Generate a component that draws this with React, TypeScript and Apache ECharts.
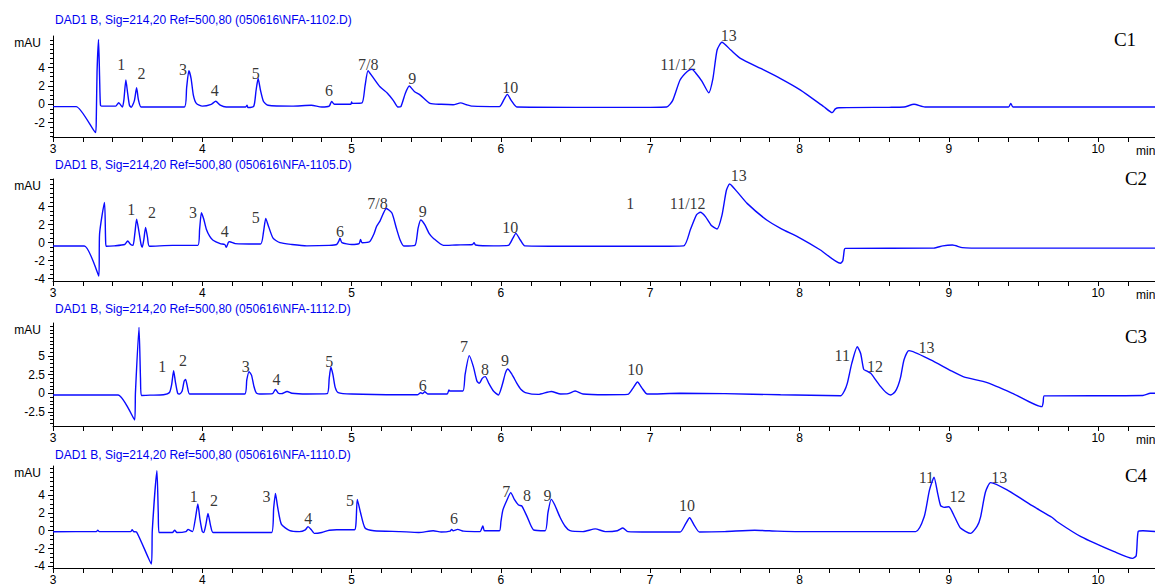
import { useEffect, useRef } from "react";
import * as echarts from "echarts";

// ---------- data ----------
const TITLES = [
  "DAD1 B, Sig=214,20 Ref=500,80 (050616\\NFA-1102.D)",
  "DAD1 B, Sig=214,20 Ref=500,80 (050616\\NFA-1105.D)",
  "DAD1 B, Sig=214,20 Ref=500,80 (050616\\NFA-1112.D)",
  "DAD1 B, Sig=214,20 Ref=500,80 (050616\\NFA-1110.D)",
];
const PANEL_NAMES = ["C1", "C2", "C3", "C4"];
const X_LABELS = [3, 4, 5, 6, 7, 8, 9, 10];
const X_UNIT = ["min", "min", "min", ""];
const X_MIN = 3;
const X_MAX = 10.381;
const Y_LABELS = [
  [-2, 0, 2, 4],
  [-4, -2, 0, 2, 4],
  [-2.5, 0, 2.5, 5],
  [-4, -2, 0, 2, 4],
];
const Y_MIN = [-3.554, -4.256, -4.378, -4.168];
const Y_MAX = [7.424, 7.078, 9.411, 7.229];

const C1_TRACE: [number, number][] = [
  [3.0, -0.25], [3.155, -0.25], [3.285, -3.08], [3.29, -1.5], [3.295, 3.5], [3.305, 7.06], [3.312, 3.0], [3.318, -0.1],
  [3.33, -0.2], [3.42, -0.2], [3.44, 0.17], [3.465, -0.3], [3.475, 0.5], [3.488, 2.64], [3.5, 1.2], [3.512, -0.1],
  [3.524, -0.33], [3.545, 0.4], [3.56, 1.8], [3.572, 0.5], [3.59, -0.3], [3.7, -0.3], [3.88, -0.3], [3.895, 1.8],
  [3.91, 3.65], [3.925, 2.8], [3.94, 1.0], [3.96, 0.1], [4.0, -0.2], [4.06, 0.0], [4.09, 0.33], [4.12, -0.1],
  [4.16, -0.3], [4.29, -0.3], [4.3, -0.1], [4.305, -0.35], [4.345, -0.2], [4.36, 1.5], [4.374, 2.8], [4.39, 1.5],
  [4.41, 0.3], [4.44, -0.1], [4.6, -0.2], [4.73, -0.1], [4.8, -0.3], [4.85, -0.2], [4.866, 0.3], [4.885, 0.0],
  [4.95, 0.0], [4.995, 0.0], [5.0, 0.25], [5.005, 0.1], [5.07, 0.15], [5.09, 2.0], [5.11, 3.65], [5.14, 3.0],
  [5.19, 1.9], [5.24, 1.2], [5.28, 0.4], [5.31, -0.3], [5.33, -0.25], [5.36, 1.2], [5.386, 1.99], [5.42, 1.4],
  [5.46, 1.0], [5.525, 0.1], [5.6, 0.0], [5.68, -0.05], [5.73, 0.15], [5.77, -0.05], [5.81, -0.2], [5.99, -0.25],
  [6.02, 0.5], [6.043, 1.08], [6.07, 0.4], [6.107, -0.3], [6.5, -0.33], [7.0, -0.33], [7.11, -0.3], [7.15, 0.4],
  [7.2, 2.64], [7.25, 3.6], [7.28, 3.8], [7.31, 3.3], [7.347, 2.5], [7.392, 1.26], [7.42, 2.8], [7.448, 5.9],
  [7.48, 6.74], [7.54, 5.9], [7.604, 5.0], [7.74, 3.9], [7.87, 2.83], [8.007, 1.55], [8.163, -0.26], [8.219, -0.91],
  [8.24, -0.5], [8.264, -0.37], [8.6, -0.33], [8.7, -0.3], [8.767, 0.0], [8.84, -0.3], [9.4, -0.3], [9.415, 0.1],
  [9.43, -0.3], [10.39, -0.3],
];

const C2_TRACE: [number, number][] = [
  [3.0, -0.37], [3.21, -0.37], [3.307, -3.7], [3.312, 1.0], [3.345, 4.48], [3.352, 0.5], [3.356, -0.4], [3.41, -0.35],
  [3.48, -0.2], [3.5, 0.19], [3.52, -0.2], [3.536, -0.3], [3.548, 1.0], [3.56, 2.6], [3.575, 1.3], [3.59, -0.2],
  [3.598, -0.5], [3.608, 0.3], [3.62, 1.7], [3.633, 0.6], [3.646, -0.4], [3.8, -0.3], [3.97, -0.3], [3.982, 1.5],
  [3.994, 3.33], [4.01, 2.6], [4.027, 1.5], [4.05, 0.7], [4.072, 0.27], [4.12, -0.1], [4.15, -0.2], [4.161, -0.5],
  [4.175, 0.05], [4.183, 0.1], [4.22, -0.1], [4.39, -0.15], [4.41, 1.2], [4.425, 2.7], [4.44, 2.0], [4.474, 0.5],
  [4.52, 0.0], [4.6, -0.2], [4.7, -0.35], [4.85, -0.3], [4.9, -0.2], [4.915, 0.2], [4.922, 0.5], [4.935, 0.0],
  [5.0, -0.2], [5.05, -0.1], [5.06, 0.35], [5.07, 0.0], [5.12, 0.1], [5.15, 1.0], [5.167, 1.8], [5.19, 2.4],
  [5.233, 3.8], [5.27, 3.3], [5.3, 1.6], [5.325, 0.3], [5.35, -0.37], [5.424, -0.3], [5.445, 1.6], [5.463, 2.52],
  [5.49, 2.0], [5.52, 1.0], [5.547, 0.5], [5.615, -0.3], [5.7, -0.25], [5.81, -0.2], [5.82, 0.0], [5.83, -0.25],
  [5.95, -0.35], [6.05, -0.3], [6.08, 0.5], [6.1, 1.04], [6.13, 0.3], [6.16, -0.35], [6.5, -0.4], [7.0, -0.4],
  [7.224, -0.35], [7.27, 1.5], [7.31, 3.1], [7.336, 3.38], [7.37, 2.9], [7.41, 1.9], [7.448, 1.52], [7.48, 3.0],
  [7.51, 5.8], [7.532, 6.52], [7.58, 5.7], [7.649, 4.37], [7.78, 2.52], [7.873, 1.6], [8.007, 0.49], [8.14, -0.81],
  [8.274, -2.29], [8.29, -2.0], [8.3, -0.8], [8.307, -0.63], [8.9, -0.6], [8.96, -0.35], [9.024, -0.26], [9.09, -0.55],
  [9.15, -0.6], [10.39, -0.6],
];

const C3_TRACE: [number, number][] = [
  [3.0, -0.23], [3.435, -0.23], [3.547, -3.57], [3.552, 0.0], [3.576, 8.83], [3.586, 2.0], [3.592, -0.3], [3.65, -0.25],
  [3.74, -0.2], [3.78, 0.1], [3.795, 1.2], [3.808, 3.03], [3.82, 1.5], [3.835, 0.0], [3.848, -0.1], [3.865, 0.3],
  [3.878, 1.6], [3.888, 1.87], [3.9, 0.9], [3.915, -0.1], [4.1, -0.1], [4.284, -0.1], [4.298, 1.8], [4.313, 2.9],
  [4.33, 2.4], [4.345, 1.0], [4.362, 0.05], [4.4, -0.1], [4.47, -0.05], [4.49, 0.53], [4.51, 0.0], [4.53, -0.05],
  [4.568, 0.25], [4.6, 0.0], [4.7, -0.1], [4.836, -0.05], [4.85, 2.0], [4.861, 3.48], [4.875, 2.5], [4.89, 0.8],
  [4.91, 0.1], [5.0, -0.1], [5.325, -0.2], [5.44, -0.2], [5.463, 0.08], [5.475, -0.05], [5.49, 0.2], [5.51, -0.1],
  [5.64, -0.1], [5.652, 0.44], [5.66, 0.3], [5.745, 0.3], [5.76, 2.5], [5.788, 5.04], [5.815, 3.6], [5.84, 1.6],
  [5.855, 1.33], [5.875, 2.0], [5.895, 2.23], [5.92, 1.3], [5.95, 0.3], [5.983, -0.23], [6.01, 1.2], [6.03, 2.7],
  [6.046, 3.25], [6.075, 2.5], [6.107, 1.33], [6.135, 0.5], [6.163, 0.1], [6.25, -0.15], [6.337, 0.25], [6.4, -0.1],
  [6.45, -0.05], [6.497, 0.3], [6.55, -0.1], [6.7, -0.2], [6.85, -0.15], [6.885, 0.7], [6.915, 1.51], [6.945, 0.7],
  [6.98, -0.1], [7.2, 0.0], [7.5, -0.05], [7.873, -0.2], [8.277, -0.32], [8.3, 0.3], [8.32, 1.33], [8.35, 4.0],
  [8.387, 6.24], [8.41, 5.3], [8.43, 3.2], [8.45, 2.99], [8.477, 2.67], [8.51, 1.8], [8.544, 0.89], [8.58, 0.1],
  [8.611, -0.23], [8.64, 0.2], [8.66, 1.0], [8.678, 2.23], [8.7, 4.5], [8.733, 5.71], [8.879, 4.46], [9.013, 3.03],
  [9.1, 2.2], [9.257, 1.42], [9.437, -0.1], [9.623, -1.79], [9.632, -1.2], [9.639, -0.35], [10.3, -0.3], [10.35, 0.0],
  [10.39, 0.0],
];

const C4_TRACE: [number, number][] = [
  [3.0, -0.11], [3.29, -0.1], [3.3, 0.05], [3.31, -0.1], [3.52, -0.1], [3.53, 0.1], [3.54, -0.1], [3.56, -0.15],
  [3.659, -3.72], [3.665, 0.0], [3.696, 6.7], [3.705, 2.0], [3.71, -0.2], [3.8, -0.2], [3.815, 0.05], [3.83, -0.2],
  [3.89, -0.1], [3.905, 0.15], [3.92, 0.0], [3.935, -0.1], [3.955, 1.5], [3.97, 2.98], [3.985, 1.2], [4.0, -0.1],
  [4.01, -0.2], [4.025, 0.8], [4.038, 1.94], [4.055, 0.6], [4.072, -0.2], [4.3, -0.2], [4.464, -0.2], [4.478, 2.5],
  [4.49, 4.17], [4.505, 2.6], [4.53, 0.7], [4.586, 0.0], [4.65, -0.1], [4.69, 0.1], [4.708, 0.45], [4.73, 0.1],
  [4.75, -0.3], [4.8, -0.2], [4.85, 0.05], [4.9, 0.1], [5.02, 0.1], [5.03, 1.0], [5.038, 3.5], [5.06, 2.0],
  [5.09, 0.3], [5.15, 0.0], [5.325, -0.1], [5.45, -0.2], [5.547, 0.0], [5.6, -0.15], [5.66, -0.05], [5.67, 0.15],
  [5.68, 0.0], [5.71, 0.15], [5.75, -0.05], [5.86, -0.1], [5.879, 0.52], [5.89, 0.0], [5.99, 0.0], [6.0, 1.0],
  [6.013, 2.3], [6.04, 3.4], [6.066, 4.25], [6.09, 3.5], [6.118, 2.87], [6.14, 2.76], [6.176, 1.55], [6.218, 0.1],
  [6.297, 0.0], [6.315, 2.0], [6.337, 3.5], [6.36, 2.9], [6.396, 1.5], [6.43, 0.5], [6.463, 0.0], [6.55, -0.1],
  [6.632, 0.2], [6.7, -0.1], [6.78, 0.0], [6.817, 0.3], [6.85, -0.1], [7.0, -0.15], [7.2, -0.15], [7.235, 0.7],
  [7.264, 1.45], [7.295, 0.6], [7.33, -0.15], [7.5, -0.1], [7.7, 0.05], [7.85, -0.05], [8.0, -0.1], [8.778, -0.1],
  [8.835, 1.55], [8.87, 4.5], [8.901, 5.97], [8.925, 4.2], [8.945, 2.8], [8.968, 2.61], [9.0, 2.68], [9.04, 1.5],
  [9.078, 0.3], [9.146, -0.3], [9.19, 0.5], [9.213, 1.55], [9.245, 4.3], [9.28, 5.37], [9.39, 4.55], [9.57, 2.68],
  [9.69, 1.5], [9.726, 1.0], [9.885, -0.67], [10.108, -2.35], [10.23, -3.09], [10.255, -2.8], [10.268, -0.1],
  [10.3, 0.0], [10.39, -0.1],
];

// peak labels: [time, value, text]
const C1_LABELS: [number, number, string][] = [
  [3.457, 4.35, "1"], [3.592, 3.37, "2"], [3.871, 3.8, "3"], [4.083, 1.48, "4"], [4.358, 3.37, "5"],
  [4.848, 1.48, "6"], [5.111, 4.38, "7/8"], [5.406, 2.83, "9"], [6.062, 1.85, "10"], [7.187, 4.38, "11/12"],
  [7.526, 7.46, "13"],
];
const C2_LABELS: [number, number, string][] = [
  [3.524, 3.7, "1"], [3.663, 3.33, "2"], [3.938, 3.37, "3"], [4.15, 1.22, "4"], [4.358, 2.82, "5"],
  [4.922, 1.22, "6"], [5.174, 4.37, "7/8"], [5.476, 3.45, "9"], [6.062, 1.67, "10"], [6.867, 4.37, "1"],
  [7.251, 4.37, "11/12"], [7.593, 7.52, "13"],
];
const C3_LABELS: [number, number, string][] = [
  [3.732, 3.56, "1"], [3.871, 4.36, "2"], [4.291, 3.56, "3"], [4.497, 1.87, "4"], [4.85, 4.23, "5"],
  [5.476, 1.11, "6"], [5.753, 6.24, "7"], [5.894, 3.12, "8"], [6.028, 4.36, "9"], [6.9, 3.12, "10"],
  [8.286, 5.04, "11"], [8.505, 3.56, "12"], [8.85, 6.16, "13"],
];
const C4_LABELS: [number, number, string][] = [
  [3.942, 3.8, "1"], [4.078, 3.35, "2"], [4.43, 3.8, "3"], [4.709, 1.38, "4"], [4.989, 3.35, "5"],
  [5.686, 1.38, "6"], [6.035, 4.36, "7"], [6.174, 3.88, "8"], [6.312, 3.88, "9"], [7.247, 2.87, "10"],
  [8.85, 5.97, "11"], [9.058, 3.8, "12"], [9.337, 5.97, "13"],
];

const TRACES = [C1_TRACE, C2_TRACE, C3_TRACE, C4_TRACE];
const LABELS = [C1_LABELS, C2_LABELS, C3_LABELS, C4_LABELS];

// ---------- layout ----------
const W = 1155;
const H = 586;
const GRID_LEFT = 53;
const PANEL_TOP = [36, 179, 323, 466];
const PANEL_BOTTOM = [137, 281, 426, 568];
const TITLE_Y = [20, 165, 309, 455];
const MAU_Y = [43, 186, 330, 473];
const NAME_POS = [
  [1125, 39],
  [1136, 178],
  [1136, 336],
  [1136, 475],
];
const LINE_COLOR = "#0a0aff";
const SANS = '"Liberation Sans", Arial, sans-serif';
const SERIF = '"Liberation Serif", "Times New Roman", serif';

function range(a: number, b: number, step: number): number[] {
  const out: number[] = [];
  const start = Math.ceil(a / step - 1e-9);
  const end = Math.floor(b / step + 1e-9);
  for (let k = start; k <= end; k++) out.push(Math.round(k * step * 1000) / 1000);
  return out;
}

export default function App() {
  const ref = useRef<HTMLDivElement>(null);

  useEffect(() => {
    if (!ref.current) return;
    const chart = echarts.init(ref.current, null, { renderer: "svg" });

    const xTicks = range(X_MIN, 10.2, 0.2);

    const grid = PANEL_TOP.map((t, i) => ({
      left: GRID_LEFT,
      right: 0,
      top: t,
      height: PANEL_BOTTOM[i] - t,
    }));

    const xAxis = PANEL_TOP.map((_, i) => ({
      type: "value",
      gridIndex: i,
      min: X_MIN,
      max: X_MAX,
      axisLine: { show: true, onZero: false, lineStyle: { color: "#000", width: 1 } },
      axisTick: { show: true, customValues: xTicks, length: 5, lineStyle: { color: "#000" } },
      axisLabel: {
        customValues: X_LABELS,
        margin: 6,
        color: "#000",
        fontSize: 12,
        fontFamily: SANS,
      },
      splitLine: { show: false },
    }));

    const yAxis: any[] = [];
    PANEL_TOP.forEach((_, i) => {
      yAxis.push({
        type: "value",
        gridIndex: i,
        position: "left",
        min: Y_MIN[i],
        max: Y_MAX[i],
        axisLine: { show: true, onZero: false, lineStyle: { color: "#000", width: 1 } },
        axisTick: { show: true, customValues: Y_LABELS[i], length: 5, lineStyle: { color: "#000" } },
        axisLabel: {
          customValues: Y_LABELS[i],
          margin: 8,
          color: "#000",
          fontSize: 12,
          fontFamily: SANS,
        },
        splitLine: { show: false },
      });
      yAxis.push({
        type: "value",
        gridIndex: i,
        position: "left",
        offset: 0,
        min: Y_MIN[i],
        max: Y_MAX[i],
        axisLine: { show: false, onZero: false },
        axisTick: {
          show: true,
          customValues: range(Y_MIN[i], Y_MAX[i], 0.5),
          length: 3,
          lineStyle: { color: "#000" },
        },
        axisLabel: { show: false },
        splitLine: { show: false },
      });
    });

    const series: any[] = [];
    TRACES.forEach((trace, i) => {
      series.push({
        type: "line",
        xAxisIndex: i,
        yAxisIndex: 2 * i,
        data: trace,
        showSymbol: false,
        symbol: "none",
        smooth: 0.2,
        lineStyle: { color: LINE_COLOR, width: 1.4 },
        silent: true,
      });
      series.push({
        type: "scatter",
        xAxisIndex: i,
        yAxisIndex: 2 * i,
        data: LABELS[i],
        encode: { x: 0, y: 1 },
        symbolSize: 1,
        clip: false,
        itemStyle: { color: "transparent" },
        silent: true,
        label: {
          show: true,
          position: "inside",
          formatter: (p: any) => p.data[2],
          color: "#000",
          fontSize: 16,
          fontFamily: SERIF,
        },
      });
    });

    const graphic: any[] = [];
    PANEL_TOP.forEach((_, i) => {
      graphic.push({
        type: "text",
        x: 55,
        y: TITLE_Y[i],
        style: {
          text: TITLES[i],
          fill: "#0000f0",
          font: `12px ${SANS}`,
          textAlign: "left",
          textVerticalAlign: "middle",
        },
      });
      graphic.push({
        type: "text",
        x: 41,
        y: MAU_Y[i],
        style: {
          text: "mAU",
          fill: "#000",
          font: `12px ${SANS}`,
          textAlign: "right",
          textVerticalAlign: "middle",
        },
      });
      graphic.push({
        type: "text",
        x: NAME_POS[i][0],
        y: NAME_POS[i][1],
        style: {
          text: PANEL_NAMES[i],
          fill: "#000",
          font: `19px ${SERIF}`,
          textAlign: "center",
          textVerticalAlign: "middle",
        },
      });
      if (X_UNIT[i]) {
        graphic.push({
          type: "text",
          x: 1136,
          y: PANEL_BOTTOM[i] + 14,
          style: {
            text: X_UNIT[i],
            fill: "#000",
            font: `12px ${SANS}`,
            textAlign: "left",
            textVerticalAlign: "middle",
          },
        });
      }
    });

    chart.setOption({
      animation: false,
      backgroundColor: "#fff",
      grid,
      xAxis,
      yAxis,
      series,
      graphic,
    });

    return () => chart.dispose();
  }, []);

  return (
    <div
      ref={ref}
      style={{ position: "absolute", left: 0, top: 0, width: W, height: H, background: "#fff" }}
    />
  );
}
